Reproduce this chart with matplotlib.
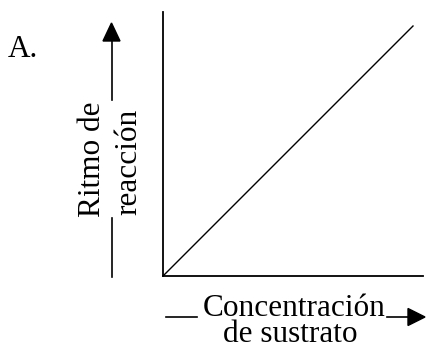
import matplotlib
matplotlib.use("Agg")
import matplotlib.pyplot as plt
from matplotlib.patches import Polygon

# Data
concentration = [0.0, 1.0]
reaction_rate = [0.0, 1.0]
panel_label = "A."
y_label_lines = ["Ritmo de", "reacción"]
x_label_lines = ["Concentración", "de sustrato"]

plt.rcParams['font.family'] = ['Liberation Serif', 'DejaVu Serif']

W, H = 426, 346
fig = plt.figure(figsize=(W / 100, H / 100), dpi=100)

# main plot axes (pixel box: x 163..423, y 12..276)
ax = fig.add_axes([163 / W, (H - 276) / H, (423 - 163) / W, (276 - 12) / H])
ax.plot(concentration, reaction_rate, color='black', lw=1.0)
ax.set_xlim(0, 260 / 250)
ax.set_ylim(0, 264 / 250)
for s in ['top', 'right']:
    ax.spines[s].set_visible(False)
for s in ['left', 'bottom']:
    ax.spines[s].set_linewidth(1.3)
ax.set_xticks([])
ax.set_yticks([])
ax.patch.set_alpha(0)

# overlay for labels and arrows, in pixel coords
ov = fig.add_axes([0, 0, 1, 1], zorder=-1)
ov.set_xlim(0, W)
ov.set_ylim(H, 0)
ov.axis('off')

fs = 22.5
ov.text(8, 57, panel_label, fontsize=fs, ha='left', va='baseline')

# y-label arrow
ov.plot([111.5, 111.5], [277, 218], color='black', lw=1.2)
ov.plot([111.5, 111.5], [100, 41], color='black', lw=1.2)
ov.add_patch(Polygon([(103, 41), (120, 41), (111.5, 23)], closed=True, color='black'))
ov.text(92, 159, y_label_lines[0], fontsize=fs, rotation=90, ha='center', va='center')
ov.text(129, 162, y_label_lines[1], fontsize=fs, rotation=90, ha='center', va='center')

# x-label arrow
ov.plot([166, 197], [317, 317], color='black', lw=1.2)
ov.plot([387, 408], [317, 317], color='black', lw=1.2)
ov.add_patch(Polygon([(408, 308.5), (408, 325.5), (425, 317)], closed=True, color='black'))
ov.text(294, 316.5, x_label_lines[0], fontsize=fs, ha='center', va='baseline')
ov.text(290, 342.5, x_label_lines[1], fontsize=fs, ha='center', va='baseline')

fig.savefig("out.png", dpi=100)
